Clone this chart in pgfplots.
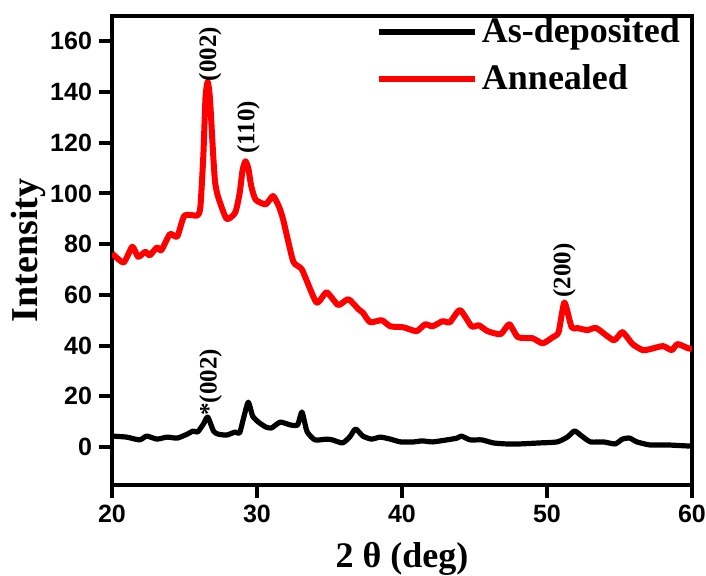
\documentclass[border=0pt]{standalone}
\usepackage{pgfplots}
\pgfplotsset{compat=1.18}
\usepackage{fontspec}
\setmainfont{Liberation Serif}
\newfontfamily\arial{Liberation Sans}
\begin{document}
\begin{tikzpicture}
\begin{axis}[
  name=ax,
  at={(0,0)}, anchor=south west,
  scale only axis,
  width=290pt, height=234.5pt,
  xmin=20, xmax=60, ymin=-15, ymax=170,
  xtick={20,30,40,50,60},
  ytick={0,20,40,60,80,100,120,140,160},
  xtick pos=bottom, ytick pos=left,
  tick align=outside,
  major tick length=6.5pt,
  every tick/.style={line width=2pt, black},
  axis line style={line width=2pt},
  /pgf/number format/assume math mode=true,
  tick label style={font=\arial\bfseries\fontsize{12.5}{14}\selectfont},
  xlabel={2 θ (deg)},
  ylabel={Intensity},
  xlabel style={at={(axis description cs:0.5,-0.176)}, anchor=base, font=\bfseries\fontsize{18}{21}\selectfont},
  ylabel style={at={(axis description cs:-0.1293,0.5)}, anchor=base, rotate=0, font=\bfseries\fontsize{19}{22}\selectfont},
  legend style={at={(1,1)}, anchor=north east, draw=none, fill=none,
    font=\bfseries\fontsize{18}{22}\selectfont, inner sep=0pt, outer sep=0pt,
    xshift=-4pt, yshift=1pt, row sep=5.5pt},
  legend cell align=left,
  legend image code/.code={\draw[#1] (0pt,0pt) -- (48pt,0pt);},
]
\addplot[black, line width=2.6pt, line join=round, smooth, tension=0.35] coordinates {
(20.0,4.3) (21.0,3.9) (21.9,2.8) (22.4,4.3) (23.1,3.1) (23.8,3.9) (24.5,3.5)
(25.2,5.1) (25.6,6.3) (25.9,5.9) (26.3,9) (26.6,11.8) (27.0,6.3) (27.3,5.1)
(27.9,4.7) (28.5,5.9) (28.8,5.5) (29.1,12) (29.4,17.7) (29.7,12.2) (30.1,9.8)
(30.6,7.9) (31.0,7.5) (31.6,9.8) (32.3,8.7) (32.8,8.7) (33.1,13.8) (33.45,6.1)
(34.0,2.8) (34.8,3.1) (35.2,2.8) (35.9,1.6) (36.4,4) (36.8,7.1) (37.3,4.3)
(37.9,3.1) (38.5,3.9) (39.2,3.1) (39.9,2.0) (40.8,2.0) (41.4,2.4) (42.1,2.0)
(43.1,2.8) (43.8,3.5) (44.1,4.3) (44.7,2.8) (45.5,2.8) (46.3,1.6) (47.2,1.2)
(48.1,1.2) (49.5,1.6) (50.7,2.0) (51.4,3.9) (51.9,6.3) (52.4,4.3) (53.0,2.0)
(53.9,2.0) (54.7,1.2) (55.2,3.1) (55.7,3.5) (56.2,2.0) (57.1,0.8) (58.3,0.8)
(59.7,0.4) (60.0,0.4)
};
\addlegendentry{As-deposited}
\addplot[red, line width=3pt, line join=round, smooth, tension=0.35] coordinates {
(20.0,76.4) (20.8,72.8) (21.4,79) (21.8,75) (22.3,77) (22.6,75.6) (23.1,78.7)
(23.4,77.6) (24.0,84) (24.5,83) (25.0,91.3) (25.9,91.3) (26.1,95) (26.3,115)
(26.45,138) (26.6,144) (26.75,138) (26.95,118) (27.1,105) (27.3,99) (27.9,90)
(28.5,92.5) (28.8,100) (29.0,109) (29.2,112.7) (29.4,110) (29.6,103) (29.9,97.6)
(30.6,95.7) (31.1,99) (31.5,95) (31.8,89.8) (32.5,73.2) (33.1,70) (34.1,57)
(34.8,61) (35.6,56) (36.3,58.3) (37.0,54.3) (37.3,53) (37.8,49.2) (38.6,50)
(39.2,47.6) (40.1,47.2) (41.0,45.7) (41.6,48.4) (42.1,47.6) (42.8,49.6) (43.3,49.2)
(44.0,54) (44.8,47.6) (45.3,48) (45.9,45.7) (46.8,44.5) (47.4,48.4) (48.0,43.3)
(49.0,42.9) (49.7,40.9) (50.4,43.3) (50.8,45.3) (51.2,57) (51.7,47.2) (52.1,46.9)
(52.8,46.1) (53.4,46.9) (54.6,42.1) (55.2,45.3) (55.9,40.6) (56.6,38.2) (57.1,38.6)
(58.0,39.8) (58.6,38.2) (59.0,40.6) (59.7,39) (60.0,38.6)
};
\addlegendentry{Annealed}
\node[rotate=90, font=\bfseries\fontsize{12.5}{14}\selectfont, inner sep=0pt] at (axis cs:26.76,155) {(002)};
\node[rotate=90, font=\bfseries\fontsize{12.5}{14}\selectfont, inner sep=0pt] at (axis cs:29.4,126) {(110)};
\node[rotate=90, font=\bfseries\fontsize{12.5}{14}\selectfont, inner sep=0pt] at (axis cs:51.2,69.7) {(200)};
\node[rotate=90, font=\bfseries\fontsize{12.5}{14}\selectfont, inner sep=0pt] at (axis cs:26.8,25.5) {*(002)};
\end{axis}
\pgfresetboundingbox
\useasboundingbox ([xshift=-56pt,yshift=-45pt]ax.south west) rectangle ([xshift=7pt,yshift=8pt]ax.north east);
\end{tikzpicture}
\end{document}
